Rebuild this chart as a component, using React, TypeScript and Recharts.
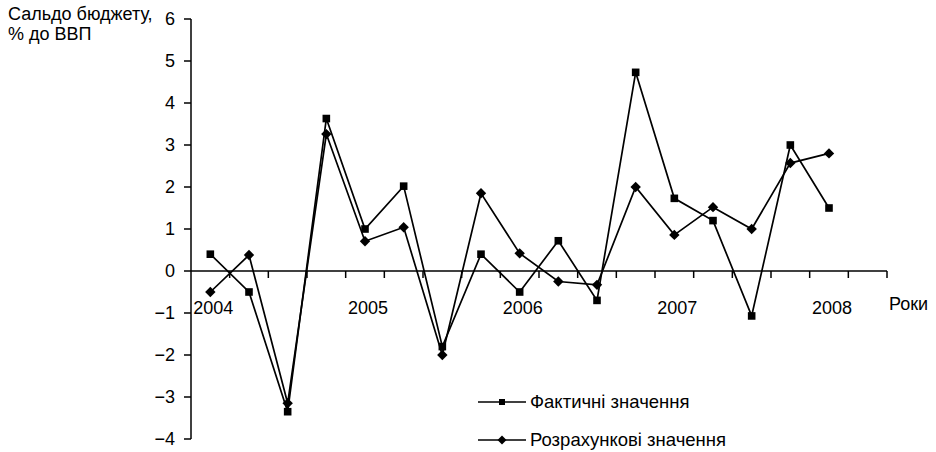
import React from 'react';
import { LineChart, Line, XAxis, YAxis, ReferenceLine, ReferenceDot } from 'recharts';

const quarters = [
  '2004 I', '2004 II', '2004 III', '2004 IV',
  '2005 I', '2005 II', '2005 III', '2005 IV',
  '2006 I', '2006 II', '2006 III', '2006 IV',
  '2007 I', '2007 II', '2007 III', '2007 IV',
  '2008 I',
];
const factValues = [0.4, -0.5, -3.35, 3.63, 1.0, 2.02, -1.8, 0.4, -0.5, 0.72, -0.7, 4.73, 1.73, 1.2, -1.07, 3.0, 1.5];
const calcValues = [-0.5, 0.38, -3.15, 3.26, 0.71, 1.04, -2.0, 1.85, 0.42, -0.25, -0.33, 2.0, 0.86, 1.52, 1.0, 2.57, 2.8];
const yTicks = [-4, -3, -2, -1, 0, 1, 2, 3, 4, 5, 6];
const yearLabels = ['2004', '2005', '2006', '2007', '2008'];
const yearQuarterIndex = [0, 4, 8, 12, 16];
const bandCount = 18;
const seriesNames = ['Фактичні значення', 'Розрахункові значення'];

const FONT = '"Liberation Sans", Arial, sans-serif';

const data = quarters.map((q, i) => ({
  q,
  x: i + 0.5,
  fact: factValues[i],
  calc: calcValues[i],
}));

const boundaries = Array.from({ length: bandCount }, (_, i) => i + 1);

const SquareDot = (props: any) => {
  const { cx, cy } = props;
  if (cx == null || cy == null) return null;
  return <rect x={cx - 3.8} y={cy - 3.8} width={7.6} height={7.6} fill="#000" />;
};

const DiamondDot = (props: any) => {
  const { cx, cy } = props;
  if (cx == null || cy == null) return null;
  const r = 5.2;
  return <polygon points={`${cx},${cy - r} ${cx + r},${cy} ${cx},${cy + r} ${cx - r},${cy}`} fill="#000" />;
};

const fmt = (v: number) => (v < 0 ? '\u2212' + Math.abs(v) : String(v));

const LegendBox = () => {
  const kinds = ['square', 'diamond'];
  return (
    <div style={{ position: 'absolute', left: 478, top: 392, fontFamily: FONT, fontSize: 18.5, color: '#000' }}>
      {seriesNames.map((name, idx) => (
        <div key={name} style={{ display: 'flex', alignItems: 'center', height: 20, marginBottom: idx === 0 ? 18 : 0 }}>
          <svg width={52} height={20} style={{ display: 'block' }}>
            <line x1={0} y1={10} x2={48} y2={10} stroke="#000" strokeWidth={1.5} />
            {kinds[idx] === 'square' ? (
              <rect x={21} y={7} width={6} height={6} fill="#000" />
            ) : (
              <polygon points="24,5.5 28.5,10 24,14.5 19.5,10" fill="#000" />
            )}
          </svg>
          <span style={{ whiteSpace: 'nowrap' }}>{name}</span>
        </div>
      ))}
    </div>
  );
};

export default function App() {
  return (
    <div style={{ position: 'absolute', left: 0, top: 0, width: 936, height: 452, background: '#fff', fontFamily: FONT }}>
      <LineChart
        width={936}
        height={452}
        data={data}
        margin={{ top: 19, right: 49, bottom: 13, left: 151 }}
      >
        <XAxis dataKey="x" type="number" domain={[0, bandCount]} hide />
        <YAxis
          type="number"
          domain={[-4, 6]}
          ticks={yTicks}
          interval={0}
          width={40}
          tickSize={7}
          tickMargin={9}
          tickFormatter={fmt}
          axisLine={{ stroke: '#000', strokeWidth: 1.5 }}
          tickLine={{ stroke: '#000', strokeWidth: 1.5 }}
          tick={{ fill: '#000', fontSize: 18, fontFamily: FONT }}
        />
        <ReferenceLine y={0} stroke="#000" strokeWidth={1.5} />
        {boundaries.map((b) => (
          <ReferenceDot
            key={'t' + b}
            x={b}
            y={0}
            r={0}
            shape={(p: any) => <line x1={p.cx} y1={p.cy} x2={p.cx} y2={p.cy + 7} stroke="#000" strokeWidth={1.5} />}
          />
        ))}
        {yearLabels.map((lab, i) => (
          <ReferenceDot
            key={'y' + lab}
            x={yearQuarterIndex[i] + 0.5}
            y={0}
            r={0}
            shape={(p: any) => (
              <text x={p.cx + 3} y={p.cy + 43} textAnchor="middle" fill="#000" fontSize={18} fontFamily={FONT}>
                {lab}
              </text>
            )}
          />
        ))}
        <Line
          type="linear"
          dataKey="fact"
          name={seriesNames[0]}
          stroke="#000"
          strokeWidth={1.7}
          dot={<SquareDot />}
          activeDot={false}
          isAnimationActive={false}
        />
        <Line
          type="linear"
          dataKey="calc"
          name={seriesNames[1]}
          stroke="#000"
          strokeWidth={1.7}
          dot={<DiamondDot />}
          activeDot={false}
          isAnimationActive={false}
        />
      </LineChart>
      <div style={{ position: 'absolute', left: 8, top: 4, fontSize: 18, lineHeight: '20px', color: '#000' }}>
        Сальдо бюджету,<br />% до ВВП
      </div>
      <div style={{ position: 'absolute', left: 889, top: 294, fontSize: 18, lineHeight: '20px', color: '#000' }}>
        Роки
      </div>
      <LegendBox />
    </div>
  );
}
